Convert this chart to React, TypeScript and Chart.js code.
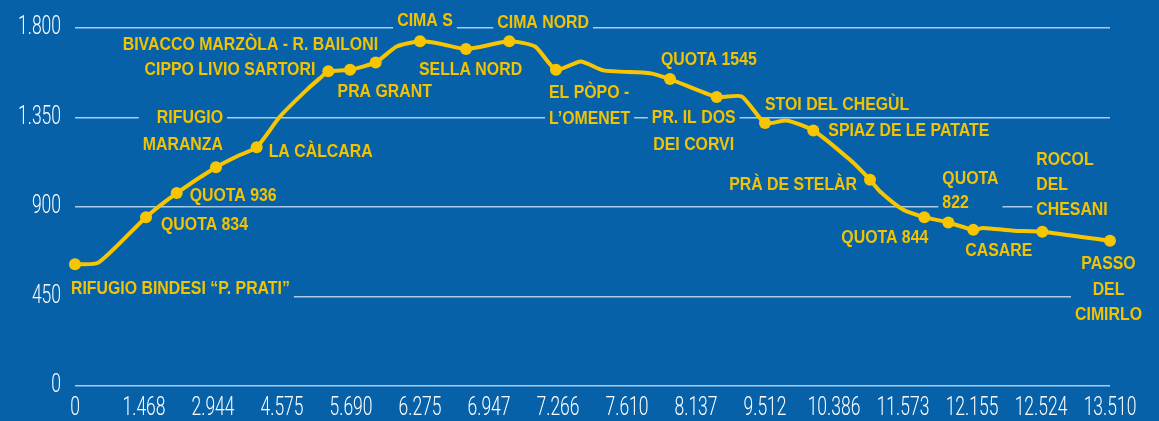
import React, { useEffect, useRef } from "react";
import { Chart, registerables } from "chart.js";

Chart.register(...registerables);

// ---- Data ----
const xTickLabels = [
  "0", "1.468", "2.944", "4.575", "5.690", "6.275", "6.947", "7.266",
  "7.610", "8.137", "9.512", "10.386", "11.573", "12.155", "12.524", "13.510",
];

const yTickValues = [0, 450, 900, 1350, 1800];

// profile: position along the (evenly spaced) distance axis, elevation in m
const profilePos = [
  0, 0.338, 1.029, 1.474, 2.043, 2.343, 2.633, 2.971, 3.358, 3.551, 3.671, 3.986,
  4.358, 4.662, 5.0, 5.29, 5.667, 6.294, 6.667, 6.971, 7.329, 7.657, 8.333, 8.623,
  9.3, 9.662, 10.0, 10.314, 10.7, 11.232, 11.522, 11.667, 12.004, 12.309, 12.657,
  13.019, 13.16, 13.6, 14.019, 15,
];
const profileElev = [
  612, 620, 849, 970, 1100, 1154, 1201, 1355, 1489, 1548, 1582, 1590,
  1627, 1707, 1733, 1721, 1694, 1733, 1707, 1590, 1632, 1587, 1573, 1543,
  1453, 1456, 1322, 1335, 1285, 1137, 1037, 978, 886, 849, 822,
  785, 794, 781, 776, 730,
];

const stopNames = [
  "RIFUGIO BINDESI “P. PRATI”",
  "QUOTA 834",
  "QUOTA 936",
  "RIFUGIO\nMARANZA",
  "LA CÀLCARA",
  "CIPPO LIVIO SARTORI",
  "BIVACCO MARZÒLA - R. BAILONI",
  "PRA GRANT",
  "CIMA S",
  "SELLA NORD",
  "CIMA NORD",
  "EL PÒPO -\nL’OMENET",
  "QUOTA 1545",
  "PR. IL DOS\nDEI CORVI",
  "STOI DEL CHEGÙL",
  "SPIAZ DE LE PATATE",
  "PRÀ DE STELÀR",
  "QUOTA 844",
  "QUOTA\n822",
  "CASARE",
  "ROCOL\nDEL\nCHESANI",
  "PASSO\nDEL\nCIMIRLO",
];
const stopPos = [
  0, 1.029, 1.474, 2.043, 2.633, 3.671, 3.986, 4.358, 5.0, 5.667, 6.294,
  6.971, 8.623, 9.3, 10.0, 10.7, 11.522, 12.309, 12.657, 13.019, 14.019, 15,
];
const stopElev = [
  612, 849, 970, 1100, 1201, 1582, 1590, 1627, 1733, 1694, 1733,
  1590, 1543, 1453, 1322, 1285, 1037, 849, 822, 785, 776, 730,
];

// ---- Label placement (layout only) ----
type Lay = { dx: number; dy: number; align: CanvasTextAlign; lh?: number };
const labelLayout: Lay[] = [
  { dx: -4, dy: 24, align: "left" },
  { dx: 15, dy: 8, align: "left" },
  { dx: 13, dy: 3, align: "left" },
  { dx: 7, dy: -49, align: "right", lh: 27 },
  { dx: 12, dy: 5, align: "left" },
  { dx: -13, dy: -2, align: "right" },
  { dx: 28, dy: -25, align: "right" },
  { dx: 9, dy: 29, align: "center" },
  { dx: 5, dy: -21, align: "center" },
  { dx: 4.5, dy: 21, align: "center" },
  { dx: -12, dy: -19, align: "left" },
  { dx: -7, dy: 23, align: "left" },
  { dx: -9, dy: -19, align: "left" },
  { dx: -23, dy: 21, align: "center", lh: 27 },
  { dx: 0, dy: -18, align: "left" },
  { dx: 15, dy: 0, align: "left" },
  { dx: -13, dy: 5, align: "right" },
  { dx: 4, dy: 21, align: "right" },
  { dx: -6, dy: -44, align: "left", lh: 24 },
  { dx: -8, dy: 21, align: "left" },
  { dx: -6, dy: -72, align: "left", lh: 25 },
  { dx: -1.5, dy: 23, align: "center", lh: 25.5 },
];

const BG = "#0761a8";
const YELLOW = "#f7c600";
const LABEL_YELLOW = "#f2c300";
const GRID = "rgba(190,215,242,0.9)";
const LABEL_FONT = "bold 19px 'Liberation Sans', Arial, sans-serif";
const LABEL_SX = 0.835;
const TICK_FONT = "300 25px Roboto, 'Liberation Sans', sans-serif";
const TICK_SX = 0.7;
const LINE_H = 26;

const fmtThousands = (n: number) =>
  n >= 1000 ? `${Math.floor(n / 1000)}.${String(n % 1000).padStart(3, "0")}` : String(n);

function drawScaled(
  ctx: CanvasRenderingContext2D,
  text: string,
  x: number,
  y: number,
  align: CanvasTextAlign,
  sx: number
) {
  ctx.save();
  ctx.translate(x, y);
  ctx.scale(sx, 1);
  ctx.textAlign = align;
  ctx.fillText(text, 0, 0);
  ctx.restore();
}

const labelPlugin = {
  id: "stopLabels",
  beforeDatasetsDraw(chart: any) {
    const { ctx, scales } = chart;
    const xs = scales.x;
    const ys = scales.y;
    ctx.save();
    ctx.font = LABEL_FONT;
    ctx.textBaseline = "middle";
    stopNames.forEach((name, i) => {
      const lay = labelLayout[i];
      const lh = lay.lh ?? LINE_H;
      const px = xs.getPixelForValue(stopPos[i]) + lay.dx;
      const py = ys.getPixelForValue(stopElev[i]) + lay.dy;
      const lines = name.split("\n");
      const widths = lines.map((l) => ctx.measureText(l).width * LABEL_SX);
      const maxW = Math.max(...widths);
      let left = px;
      if (lay.align === "right") left = px - maxW;
      else if (lay.align === "center") left = px - maxW / 2;
      const pad = 4;
      ctx.fillStyle = BG;
      ctx.fillRect(left - pad, py - 10, maxW + pad * 2, (lines.length - 1) * lh + 20);
      ctx.fillStyle = LABEL_YELLOW;
      lines.forEach((l, k) => {
        drawScaled(ctx, l, px, py + k * lh, lay.align, LABEL_SX);
      });
    });
    ctx.restore();
  },
  afterDraw(chart: any) {
    const { ctx, scales, chartArea } = chart;
    const xs = scales.x;
    const ys = scales.y;
    ctx.save();
    ctx.font = TICK_FONT;
    ctx.fillStyle = "#ffffff";
    ctx.textBaseline = "middle";
    xTickLabels.forEach((t, i) => {
      drawScaled(ctx, t, xs.getPixelForValue(i), chartArea.bottom + 23, "center", TICK_SX);
    });
    yTickValues.forEach((v) => {
      drawScaled(ctx, fmtThousands(v), chartArea.left - 14, ys.getPixelForValue(v), "right", TICK_SX);
    });
    ctx.restore();
  },
};

export default function App() {
  const ref = useRef<HTMLCanvasElement | null>(null);

  useEffect(() => {
    if (!ref.current) return;
    const chart = new Chart(ref.current, {
      type: "line",
      data: {
        datasets: [
          {
            label: "stops",
            data: stopPos.map((x, i) => ({ x, y: stopElev[i] })),
            showLine: false,
            pointRadius: 6,
            pointBackgroundColor: YELLOW,
            pointBorderWidth: 0,
            clip: false,
          },
          {
            label: "profile",
            data: profilePos.map((x, i) => ({ x, y: profileElev[i] })),
            borderColor: YELLOW,
            borderWidth: 4,
            pointRadius: 0,
            tension: 0.2,
            borderJoinStyle: "round",
            borderCapStyle: "round",
            clip: false,
          },
        ],
      },
      options: {
        responsive: false,
        animation: false,
        devicePixelRatio: 1,
        layout: { padding: { left: 0, right: 49, top: 28, bottom: 0 } },
        plugins: { legend: { display: false }, tooltip: { enabled: false } },
        scales: {
          x: {
            type: "linear",
            min: 0,
            max: 15,
            afterFit: (s: any) => {
              s.height = 35;
            },
            afterBuildTicks: (s: any) => {
              s.ticks = xTickLabels.map((_, i) => ({ value: i }));
            },
            ticks: { display: false },
            grid: { display: false, drawTicks: false },
            border: { display: false },
          },
          y: {
            min: 0,
            max: 1800,
            afterFit: (s: any) => {
              s.width = 75;
            },
            afterBuildTicks: (s: any) => {
              s.ticks = yTickValues.map((v) => ({ value: v }));
            },
            ticks: { display: false },
            grid: { color: GRID, lineWidth: 1.5, drawTicks: false },
            border: { display: false },
          },
        },
      },
      plugins: [labelPlugin],
    });
    return () => chart.destroy();
  }, []);

  return (
    <div
      style={{
        position: "fixed",
        left: 0,
        top: 0,
        width: 1159,
        height: 421,
        background: BG,
      }}
    >
      <canvas ref={ref} width={1159} height={421} />
    </div>
  );
}
